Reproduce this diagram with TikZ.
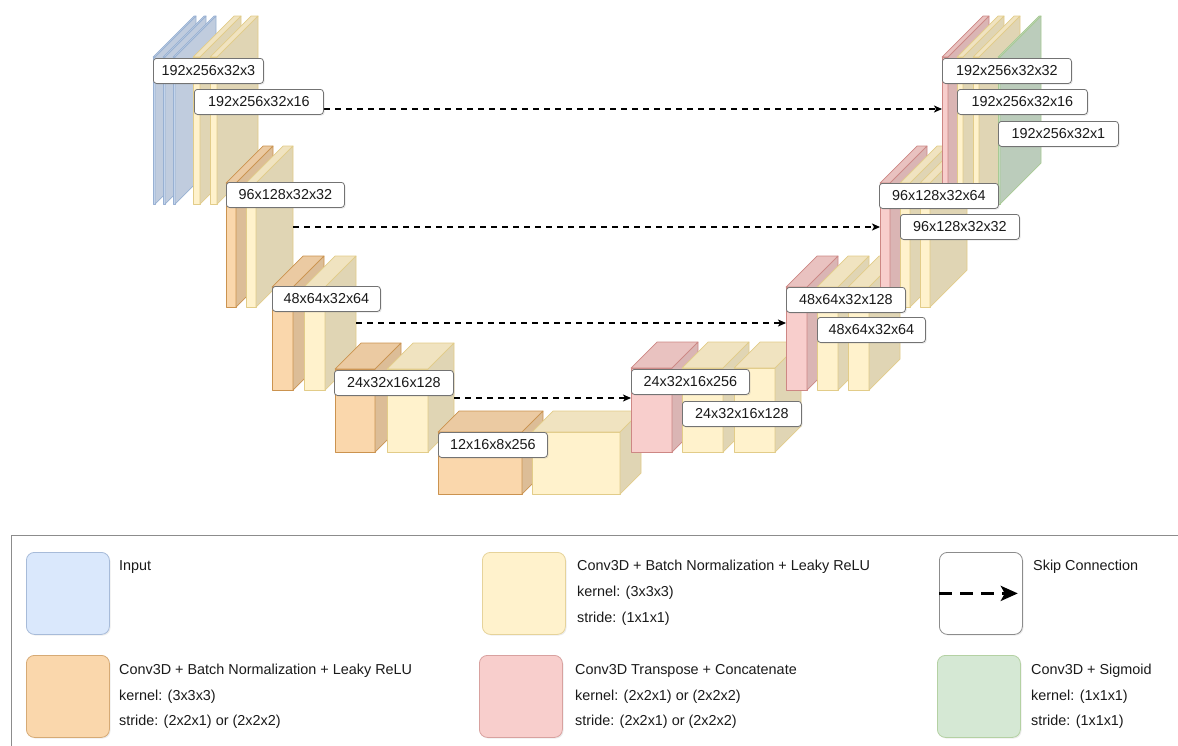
\documentclass[tikz,border=0pt]{standalone}
\usepackage{fontspec}
\setmainfont{Liberation Sans}
\usetikzlibrary{arrows.meta,shadows}
\definecolor{inpF}{RGB}{218,232,252}
\definecolor{inpS}{RGB}{108,142,191}
\definecolor{dnF}{RGB}{250,215,172}
\definecolor{dnS}{RGB}{180,101,4}
\definecolor{cvF}{RGB}{255,242,204}
\definecolor{cvS}{RGB}{214,182,86}
\definecolor{upF}{RGB}{248,206,204}
\definecolor{upS}{RGB}{184,84,80}
\definecolor{outF}{RGB}{213,232,212}
\definecolor{outS}{RGB}{130,179,102}
\definecolor{txtclr}{RGB}{26,26,26}
\tikzset{
  % cube edges
  cubeline/.style  = {line width=0.7pt, line join=round},
  % size labels
  dimlab/.style    = {draw=black!55, fill=white, rounded corners=3pt, line width=0.8pt,
                      minimum height=25pt, inner sep=0pt, anchor=north west,
                      font=\fontsize{14.4}{17}\selectfont, text=txtclr,
                      drop shadow={shadow xshift=1.2pt, shadow yshift=-1.2pt, opacity=0.18}},
  % skip connections
  skiparrow/.style = {draw=black, line width=1.5pt, dash pattern=on 6pt off 5pt,
                      -{Stealth[length=8pt, width=7pt, inset=2pt]}},
  % legend
  legframe/.style  = {draw=black!45, line width=0.9pt},
  legbox/.style    = {rounded corners=8pt, line width=0.8pt, minimum width=83pt,
                      minimum height=82pt, anchor=north west, inner sep=0pt,
                      drop shadow={shadow xshift=1.2pt, shadow yshift=-1.2pt, opacity=0.15}},
  legtxt/.style    = {anchor=west, inner sep=0pt, text=txtclr,
                      font=\fontsize{14.4}{17}\selectfont},
  legskip/.style   = {draw=black, line width=3.2pt, dash pattern=on 13pt off 8pt,
                      -{Stealth[length=17pt, width=15pt, inset=4pt]}},
}
% name, x, y (front top left), front width, height, depth, colour
\newcommand{\ucube}[7]{%
  \filldraw[cubeline, fill=#7F, draw=#7S!70!white] (#2,#3) rectangle ({#2+#4},{#3+#5});
  \filldraw[cubeline, fill=#7F!94!black, draw=#7S!70!white] (#2,#3) -- ({#2+#6},{#3-#6})
    -- ({#2+#4+#6},{#3-#6}) -- ({#2+#4},#3) -- cycle;
  \filldraw[cubeline, fill=#7F!88!black, draw=#7S!70!white] ({#2+#4},#3) -- ({#2+#4+#6},{#3-#6})
    -- ({#2+#4+#6},{#3+#5-#6}) -- ({#2+#4},{#3+#5}) -- cycle;
  \coordinate (#1-w) at (#2,{#3+#5/2});
  \coordinate (#1-e) at ({#2+#4+#6},{#3+#5/2-#6});
}
\begin{document}
\begin{tikzpicture}[x=1pt, y=-1pt]
  \useasboundingbox (0,0) rectangle (1178,745);
  % Encoder
  \ucube{e1i1}{153}{57}{2}{147}{41}{inp}
  \ucube{e1i2}{163}{57}{2}{147}{41}{inp}
  \ucube{e1i3}{173}{57}{2}{147}{41}{inp}
  \ucube{e1c1}{193}{57}{7}{147}{41}{cv}
  \ucube{e1c2}{210}{57}{7}{147}{41}{cv}
  \ucube{e2d}{226}{183}{10}{124}{37}{dn}
  \ucube{e2c}{246}{183}{10}{124}{37}{cv}
  \ucube{e3d}{272}{287}{21}{103}{31}{dn}
  \ucube{e3c}{304}{287}{21}{103}{31}{cv}
  \ucube{e4d}{335}{369}{40}{83}{26}{dn}
  \ucube{e4c}{387}{369}{41}{83}{26}{cv}
  \ucube{e5d}{438}{432}{84}{62}{21}{dn}
  \ucube{e5c}{532}{432}{88}{62}{21}{cv}
  % Decoder
  \ucube{d4u}{631}{368}{41}{84}{26}{up}
  \ucube{d4c1}{682}{368}{41}{84}{26}{cv}
  \ucube{d4c2}{734}{368}{41}{84}{26}{cv}
  \ucube{d3u}{786}{287}{21}{103}{31}{up}
  \ucube{d3c1}{817}{287}{21}{103}{31}{cv}
  \ucube{d3c2}{848}{287}{21}{103}{31}{cv}
  \ucube{d2u}{880}{183}{10}{124}{37}{up}
  \ucube{d2c1}{900}{183}{10}{124}{37}{cv}
  \ucube{d2c2}{920}{183}{10}{124}{37}{cv}
  \ucube{d1u}{942}{57}{6}{147}{41}{up}
  \ucube{d1c1}{957}{57}{6}{147}{41}{cv}
  \ucube{d1c2}{973}{57}{6}{147}{41}{cv}
  \ucube{d1o}{998}{57}{2}{147}{41}{out}
  % Skip connections
  \coordinate (s1) at (0,109);
  \coordinate (s2) at (0,227);
  \coordinate (s3) at (0,323);
  \coordinate (s4) at (0,398);
  \draw[skiparrow] (e1c2-e |- s1) -- (d1u-w |- s1);
  \draw[skiparrow] (e2c-e |- s2) -- (d2u-w |- s2);
  \draw[skiparrow] (e3c-e |- s3) -- (d3u-w |- s3);
  \draw[skiparrow] (e4c-e |- s4) -- (d4u-w |- s4);
  % Size labels
  \node[dimlab, minimum width=110pt] (le1a) at (153,58) {192x256x32x3};
  \node[dimlab, minimum width=129pt] (le1b) at (194,89) {192x256x32x16};
  \node[dimlab, minimum width=118pt] (le2) at (226,182) {96x128x32x32};
  \node[dimlab, minimum width=108pt] (le3) at (272,286) {48x64x32x64};
  \node[dimlab, minimum width=119pt] (le4) at (334,370) {24x32x16x128};
  \node[dimlab, minimum width=109pt] (le5) at (438,432) {12x16x8x256};
  \node[dimlab, minimum width=118pt] (ld4a) at (631,369) {24x32x16x256};
  \node[dimlab, minimum width=119pt] (ld4b) at (682,401) {24x32x16x128};
  \node[dimlab, minimum width=119pt] (ld3a) at (786,287) {48x64x32x128};
  \node[dimlab, minimum width=108pt] (ld3b) at (817,317) {48x64x32x64};
  \node[dimlab, minimum width=119pt] (ld2a) at (879,183) {96x128x32x64};
  \node[dimlab, minimum width=119pt] (ld2b) at (900,214) {96x128x32x32};
  \node[dimlab, minimum width=129pt] (ld1a) at (942,58) {192x256x32x32};
  \node[dimlab, minimum width=130pt] (ld1b) at (957,89) {192x256x32x16};
  \node[dimlab, minimum width=120pt] (ld1c) at (998,121) {192x256x32x1};
  % Legend
  \draw[legframe] (11,760) -- (11,535) -- (1190,535);
  \node[legbox, fill=inpF, draw=inpS!60!white] (kinp) at (26,552) {};
  \node[legtxt] (tinp) at (119,567) {Input};
  \node[legbox, fill=dnF, draw=dnS!55!white] (kdn) at (26,655) {};
  \node[legtxt] (tdn1) at (119,671) {Conv3D + Batch Normalization + Leaky ReLU};
  \node[legtxt] (tdn2) at (119,696.5) {kernel: (3x3x3)};
  \node[legtxt] (tdn3) at (119,722) {stride: (2x2x1) or (2x2x2)};
  \node[legbox, fill=cvF, draw=cvS!60!white] (kcv) at (482,552) {};
  \node[legtxt] (tcv1) at (577,567) {Conv3D + Batch Normalization + Leaky ReLU};
  \node[legtxt] (tcv2) at (577,593) {kernel: (3x3x3)};
  \node[legtxt] (tcv3) at (577,619) {stride: (1x1x1)};
  \node[legbox, fill=upF, draw=upS!55!white] (kup) at (479,655) {};
  \node[legtxt] (tup1) at (575,671) {Conv3D Transpose + Concatenate};
  \node[legtxt] (tup2) at (575,696.5) {kernel: (2x2x1) or (2x2x2)};
  \node[legtxt] (tup3) at (575,722) {stride: (2x2x1) or (2x2x2)};
  \node[legbox, fill=white, draw=black!45] (kskip) at (939,552) {};
  \draw[legskip] (kskip.west) -- ([xshift=-5pt]kskip.east);
  \node[legtxt] (tskip) at (1033,567) {Skip Connection};
  \node[legbox, fill=outF, draw=outS!60!white] (kout) at (937,655) {};
  \node[legtxt] (tout1) at (1031,671) {Conv3D + Sigmoid};
  \node[legtxt] (tout2) at (1031,696.5) {kernel: (1x1x1)};
  \node[legtxt] (tout3) at (1031,722) {stride: (1x1x1)};
\end{tikzpicture}
\end{document}
